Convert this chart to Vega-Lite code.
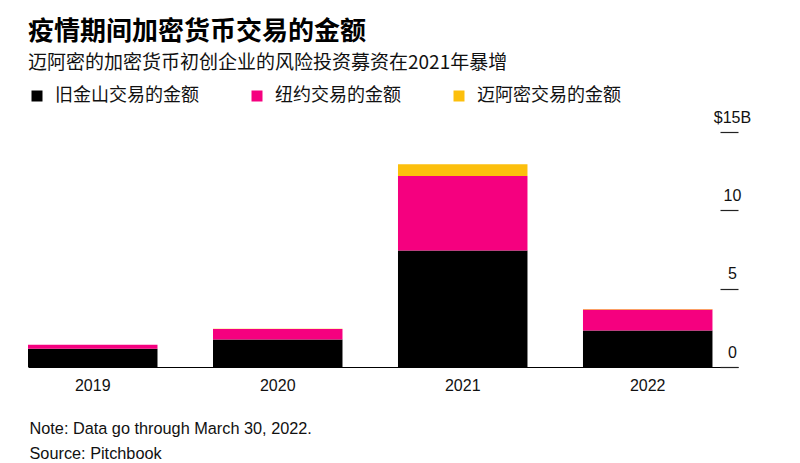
{
  "$schema": "https://vega.github.io/schema/vega-lite/v6.json",
  "width": 710,
  "height": 235,
  "padding": {"left": 28, "top": 19, "right": 0, "bottom": 0},
  "background": "white",
  "title": {
    "text": "疫情期间加密货币交易的金额",
    "subtitle": "迈阿密的加密货币初创企业的风险投资募资在2021年暴增",
    "anchor": "start",
    "font": "Noto Sans CJK SC",
    "fontSize": 26,
    "fontWeight": "bold",
    "color": "#000000",
    "subtitleFont": "Noto Sans CJK SC",
    "subtitleFontSize": 19,
    "subtitleColor": "#111111",
    "subtitlePadding": 9,
    "offset": 14
  },
  "data": {
    "values": [
      {"year": "2019", "city": "旧金山交易的金额", "amount": 1.16},
      {"year": "2019", "city": "纽约交易的金额", "amount": 0.26},
      {"year": "2019", "city": "迈阿密交易的金额", "amount": 0.0},
      {"year": "2020", "city": "旧金山交易的金额", "amount": 1.76},
      {"year": "2020", "city": "纽约交易的金额", "amount": 0.66},
      {"year": "2020", "city": "迈阿密交易的金额", "amount": 0.02},
      {"year": "2021", "city": "旧金山交易的金额", "amount": 7.44},
      {"year": "2021", "city": "纽约交易的金额", "amount": 4.75},
      {"year": "2021", "city": "迈阿密交易的金额", "amount": 0.75},
      {"year": "2022", "city": "旧金山交易的金额", "amount": 2.33},
      {"year": "2022", "city": "纽约交易的金额", "amount": 1.34},
      {"year": "2022", "city": "迈阿密交易的金额", "amount": 0.03}
    ]
  },
  "mark": {"type": "bar"},
  "encoding": {
    "x": {
      "field": "year",
      "type": "nominal",
      "scale": {"paddingInner": 0.3, "paddingOuter": 0.069, "align": 0},
      "axis": {
        "title": ["Note: Data go through March 30, 2022.", "Source: Pitchbook"],
        "titleFont": "Liberation Sans",
        "titleFontSize": 16.3,
        "titleFontWeight": "normal",
        "titleColor": "#111111",
        "titleAlign": "left",
        "titleAnchor": "start",
        "titleBaseline": "alphabetic",
        "titleX": 1,
        "titleY": 66,
        "titleLineHeight": 25,
        "labelAngle": 0,
        "labelFont": "Liberation Sans",
        "labelFontSize": 16,
        "labelColor": "#111111",
        "labelPadding": 10,
        "ticks": false,
        "tickSize": 0,
        "domain": true,
        "domainColor": "#000000",
        "domainWidth": 1.2,
        "grid": false
      }
    },
    "y": {
      "field": "amount",
      "type": "quantitative",
      "stack": "zero",
      "scale": {"domain": [0, 15], "nice": false},
      "axis": {
        "orient": "right",
        "title": null,
        "values": [0, 5, 10, 15],
        "labelExpr": "datum.value == 15 ? '$15B' : datum.label",
        "labelFont": "Liberation Sans",
        "labelFontSize": 16,
        "labelColor": "#111111",
        "labelAlign": "center",
        "labelBaseline": "alphabetic",
        "labelOffset": -10,
        "labelPadding": -6,
        "offset": -18,
        "domain": false,
        "grid": false,
        "ticks": true,
        "tickSize": 18,
        "tickColor": "#222222",
        "tickWidth": 1.2
      }
    },
    "color": {
      "field": "city",
      "type": "nominal",
      "sort": ["旧金山交易的金额", "纽约交易的金额", "迈阿密交易的金额"],
      "scale": {
        "domain": ["旧金山交易的金额", "纽约交易的金额", "迈阿密交易的金额"],
        "range": ["#000000", "#f5007f", "#fcbf0c"]
      },
      "legend": {
        "orient": "top",
        "direction": "horizontal",
        "title": null,
        "symbolType": "square",
        "symbolSize": 121,
        "symbolStrokeWidth": 0,
        "labelFont": "Noto Sans CJK SC",
        "labelFontSize": 18,
        "labelColor": "#111111",
        "labelOffset": 9,
        "columnPadding": 49,
        "offset": 27
      }
    },
    "order": {"field": "city", "sort": "ascending"}
  },
  "config": {
    "view": {"stroke": null}
  }
}
